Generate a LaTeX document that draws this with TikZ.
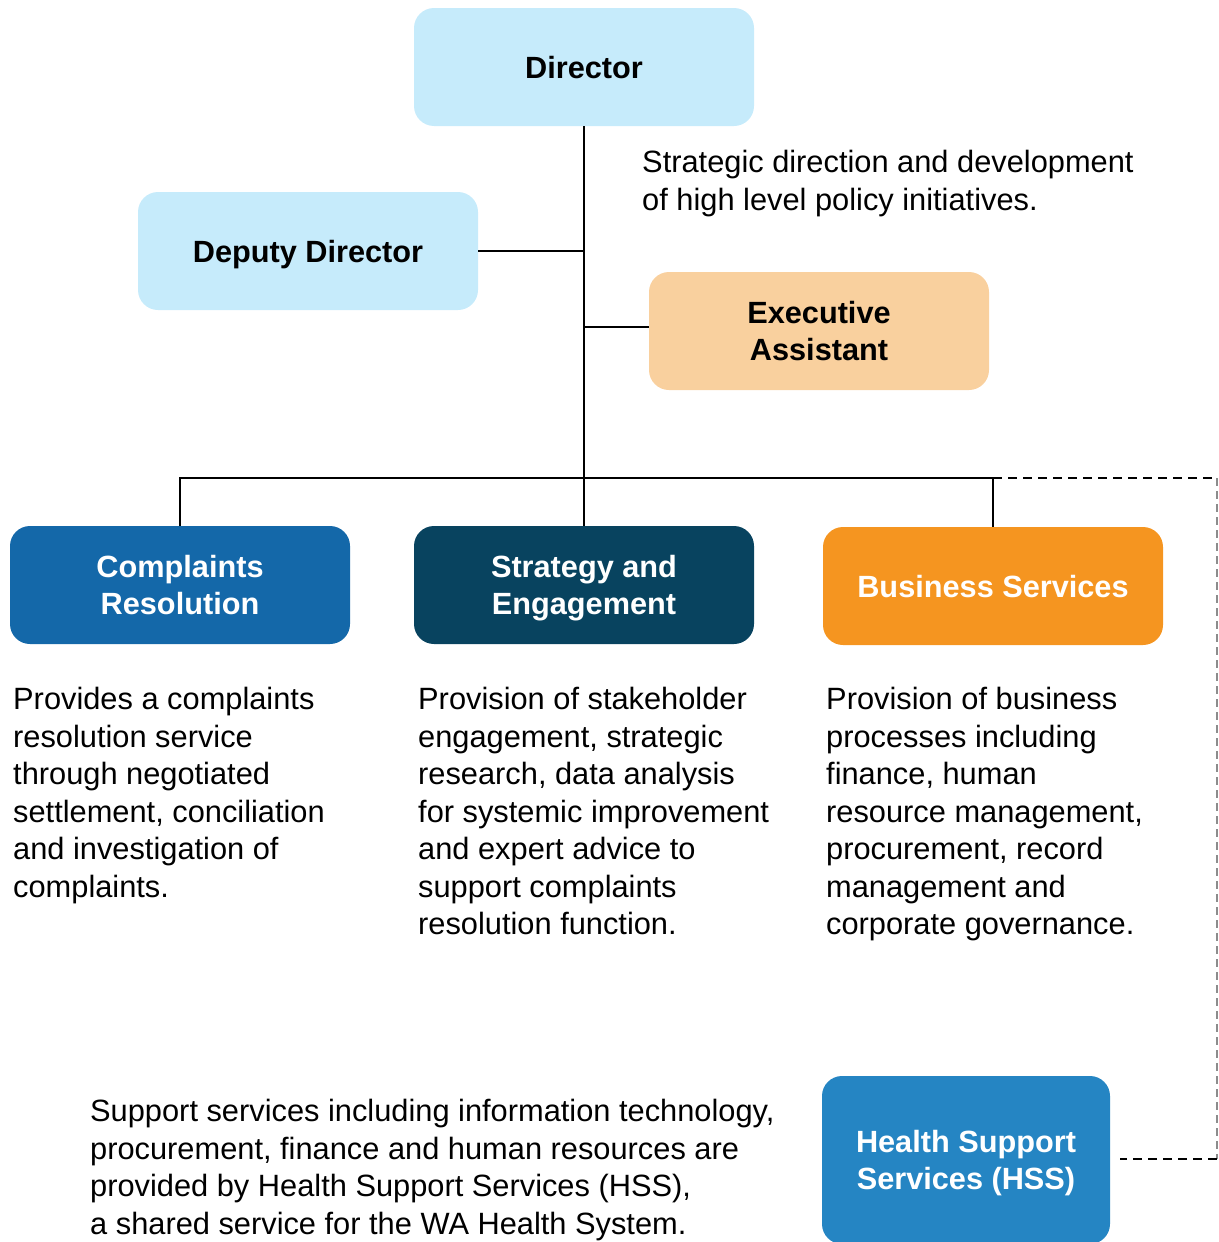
\documentclass[tikz,border=0pt]{standalone}
\usepackage{fontspec}
\setmainfont{Liberation Sans}
\begin{document}
\begin{tikzpicture}[x=1pt,y=-1pt,
  box/.style={rectangle,rounded corners=20pt,minimum width=340pt,minimum height=118pt,
    inner sep=0pt,text depth=0pt,align=center,font=\fontsize{30.7}{37}\selectfont\bfseries},
  lightbox/.style={box,fill=lightblue,text=black},
  darkbox/.style={box,text=white},
  desc/.style={anchor=north west,inner sep=0pt,align=left,
    font=\fontsize{30.8}{37.5}\selectfont,text=black},
  link/.style={draw=black,line width=2pt},
  dashlink/.style={draw=black,line width=2pt,dash pattern=on 9pt off 6pt},
  dashside/.style={draw=black!45,line width=1.6pt,dash pattern=on 8pt off 5pt}]
\definecolor{lightblue}{HTML}{C6EBFB}
\definecolor{peach}{HTML}{F9D09E}
\definecolor{crblue}{HTML}{1468A9}
\definecolor{sepetrol}{HTML}{08435F}
\definecolor{bsorange}{HTML}{F59520}
\definecolor{hssblue}{HTML}{2585C3}
\useasboundingbox (0,0) rectangle (1218,1242);
\clip (0,0) rectangle (1218,1242);

% leadership boxes
\node[lightbox] (dir) at (584,67) {Director};
\node[lightbox] (dep) at (308,251) {Deputy Director};
\node[box,fill=peach,text=black] (ea) at (819,331) {Executive\\Assistant};

% branch boxes
\node[darkbox,fill=crblue] (comp) at (180,585) {Complaints\\Resolution};
\node[darkbox,fill=sepetrol] (strat) at (584,585) {Strategy and\\Engagement};
\node[darkbox,fill=bsorange] (biz) at (993,586) {Business Services};
\node[darkbox,fill=hssblue,minimum width=288pt,minimum height=168pt] (hss) at (966,1160) {Health Support\\Services (HSS)};

% descriptions
\node[desc] (dirtxt) at (642,150) {Strategic direction and development\\of high level policy initiatives.};
\node[desc] (comptxt) at (13,687) {Provides a complaints\\resolution service\\through negotiated\\settlement, conciliation\\and investigation of\\complaints.};
\node[desc] (strattxt) at (418,687) {Provision of stakeholder\\engagement, strategic\\research, data analysis\\for systemic improvement\\and expert advice to\\support complaints\\resolution function.};
\node[desc] (biztxt) at (826,687) {Provision of business\\processes including\\finance, human\\resource management,\\procurement, record\\management and\\corporate governance.};
\node[desc] (hsstxt) at (90,1099) {Support services including information technology,\\procurement, finance and human resources are\\provided by Health Support Services (HSS),\\a shared service for the WA Health System.};

% reporting lines
\coordinate (bus) at (584,478);
\coordinate (eajoin) at (584,327);
\coordinate (cornerTop) at (1217,478);
\coordinate (cornerBot) at (1217,1159);
\draw[link] (dir.south) -- (strat.north);
\draw[link] (dep.east) -- (dep.east -| dir.south);
\draw[link] (eajoin) -- (eajoin -| ea.west);
\draw[link] (comp.north) |- (bus) -| (biz.north);
\draw[dashlink] (biz.north |- bus) -- (cornerTop);
\draw[dashside] (cornerTop) -- (cornerBot);
\draw[dashlink] (cornerBot) -- ([xshift=10pt]cornerBot -| hss.east);
\end{tikzpicture}
\end{document}
